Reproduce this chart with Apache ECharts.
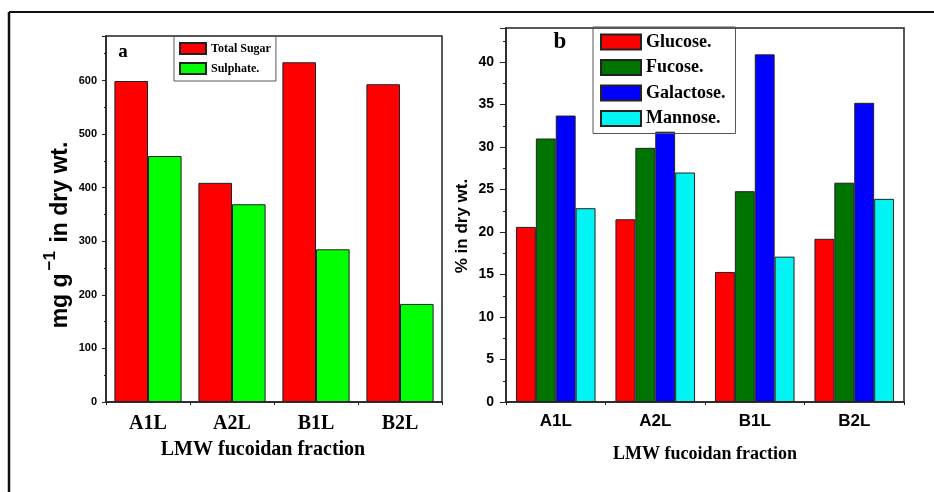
<!DOCTYPE html>
<html>
<head>
<meta charset="utf-8">
<script src="https://cdn.jsdelivr.net/npm/echarts@6/dist/echarts.min.js"></script>
<style>
  html, body { margin: 0; padding: 0; background: #fff; }
  #main { width: 934px; height: 492px; }
</style>
</head>
<body>
<div id="main"></div>
<script>
// fractions on the x axis (both panels)
var fractions = ['A1L', 'A2L', 'B1L', 'B2L'];

// panel a - mg g-1 in dry wt.
var totalSugar = [599, 409, 634, 593];
var sulphate = [459, 369, 285, 183];

// panel b - % in dry wt.
var glucose = [20.6, 21.5, 15.3, 19.2];
var fucose = [31.0, 29.9, 24.8, 25.8];
var galactose = [33.7, 31.8, 40.9, 35.2];
var mannose = [22.8, 27.0, 17.1, 23.9];

var chart = echarts.init(document.getElementById('main'));

var serif = 'Liberation Serif';
var sans = 'Liberation Sans';

function barSeries(name, data, color, axis) {
  return {
    name: name,
    type: 'bar',
    xAxisIndex: axis,
    yAxisIndex: axis,
    data: data,
    barGap: '0%',
    barCategoryGap: '20%',
    itemStyle: { color: color, borderColor: '#222', borderWidth: 1 },
    emphasis: { disabled: true }
  };
}

// extra value axis only used for the small ticks between the categories
function boundaryAxis(grid, h) {
  return {
    type: 'value', gridIndex: grid, position: 'top', offset: -h,
    min: 0, max: 4, interval: 1,
    axisLine: { show: false },
    axisTick: { show: true, inside: true, length: 3, lineStyle: { color: '#222', width: 1 } },
    axisLabel: { show: false },
    splitLine: { show: false }
  };
}

var options = {
  animation: false,
  backgroundColor: '#fff',
  grid: [
    { left: 106, top: 36, width: 336, height: 366, show: true, borderColor: '#222', borderWidth: 1.5 },
    { left: 506, top: 28, width: 398, height: 374, show: true, borderColor: '#222', borderWidth: 1.5 }
  ],
  legend: [
    {
      data: ['Total Sugar', 'Sulphate.'],
      orient: 'vertical', left: 174, top: 36,
      itemWidth: 26, itemHeight: 11, itemGap: 7,
      padding: [6, 5, 6, 5],
      borderColor: '#555', borderWidth: 1,
      icon: 'rect',
      textStyle: { fontFamily: serif, fontWeight: 'bold', fontSize: 12, color: '#000' }
    },
    {
      data: ['Glucose.', 'Fucose.', 'Galactose.', 'Mannose.'],
      orient: 'vertical', left: 593, top: 27,
      itemWidth: 40, itemHeight: 15, itemGap: 7.5,
      padding: [6, 10, 6, 7],
      borderColor: '#555', borderWidth: 1,
      icon: 'rect',
      textStyle: { fontFamily: serif, fontWeight: 'bold', fontSize: 18, color: '#000' }
    }
  ],
  xAxis: [
    {
      type: 'category', gridIndex: 0, data: fractions,
      name: 'LMW fucoidan fraction', nameLocation: 'middle', nameGap: 38,
      nameTextStyle: { fontFamily: serif, fontWeight: 'bold', fontSize: 20, color: '#000', padding: [0, 22, 0, 0] },
      axisLine: { lineStyle: { color: '#222', width: 1.5 } },
      axisTick: { alignWithLabel: true, length: 5, lineStyle: { color: '#222' } },
      axisLabel: { fontFamily: serif, fontWeight: 'bold', fontSize: 20, color: '#000', margin: 12 }
    },
    {
      type: 'category', gridIndex: 1, data: fractions,
      name: 'LMW fucoidan fraction', nameLocation: 'middle', nameGap: 43,
      nameTextStyle: { fontFamily: serif, fontWeight: 'bold', fontSize: 18, color: '#000' },
      axisLine: { lineStyle: { color: '#222', width: 1.5 } },
      axisTick: { alignWithLabel: true, length: 5, lineStyle: { color: '#222' } },
      axisLabel: { fontFamily: sans, fontWeight: 'bold', fontSize: 17, color: '#000', margin: 11 }
    },
    boundaryAxis(0, 366),
    boundaryAxis(1, 374)
  ],
  yAxis: [
    {
      type: 'value', gridIndex: 0, min: 0, max: 683, interval: 100,
      axisLine: { show: true, lineStyle: { color: '#222', width: 1.5 } },
      axisTick: { show: true, length: 4, lineStyle: { color: '#222' } },
      minorTick: { show: true, splitNumber: 2, length: 2, lineStyle: { color: '#222' } },
      axisLabel: { fontFamily: sans, fontWeight: 'bold', fontSize: 11, color: '#000', margin: 9, showMaxLabel: false },
      splitLine: { show: false }
    },
    {
      type: 'value', gridIndex: 1, min: 0, max: 44, interval: 5,
      axisLine: { show: true, lineStyle: { color: '#222', width: 1.5 } },
      axisTick: { show: true, length: 6, lineStyle: { color: '#222' } },
      minorTick: { show: true, splitNumber: 2, length: 3, lineStyle: { color: '#222' } },
      axisLabel: { fontFamily: sans, fontWeight: 'bold', fontSize: 14, color: '#000', margin: 12, showMaxLabel: false },
      splitLine: { show: false }
    }
  ],
  series: [
    barSeries('Total Sugar', totalSugar, '#ff0000', 0),
    barSeries('Sulphate.', sulphate, '#00ff00', 0),
    barSeries('Glucose.', glucose, '#ff0000', 1),
    barSeries('Fucose.', fucose, '#007400', 1),
    barSeries('Galactose.', galactose, '#0000ff', 1),
    barSeries('Mannose.', mannose, '#00f4f4', 1)
  ],
  graphic: [
    // outer frame (top and left edges only)
    { type: 'line', shape: { x1: 9, y1: 12, x2: 934, y2: 12 }, style: { stroke: '#111', lineWidth: 2 } },
    { type: 'line', shape: { x1: 9, y1: 12, x2: 9, y2: 492 }, style: { stroke: '#111', lineWidth: 2.5 } },
    // panel letters
    { type: 'text', x: 123, y: 52, style: { text: 'a', font: 'bold 19px "Liberation Serif"', fill: '#000', textAlign: 'center', textVerticalAlign: 'middle' } },
    { type: 'text', x: 560, y: 42, style: { text: 'b', font: 'bold 23px "Liberation Serif"', fill: '#000', textAlign: 'center', textVerticalAlign: 'middle' } },
    // y axis titles
    {
      type: 'text', x: 57, y: 235, rotation: Math.PI / 2,
      style: {
        text: '{t|mg g}{s|\u22121}{t| in dry wt.}',
        textAlign: 'center', textVerticalAlign: 'middle', fill: '#000',
        rich: {
          t: { fontFamily: sans, fontWeight: 'bold', fontSize: 23, fill: '#000', verticalAlign: 'bottom', lineHeight: 30 },
          s: { fontFamily: sans, fontWeight: 'bold', fontSize: 17, fill: '#000', verticalAlign: 'top', lineHeight: 30, padding: [0, 2, 0, 3] }
        }
      }
    },
    {
      type: 'text', x: 462, y: 226, rotation: Math.PI / 2,
      style: { text: '% in dry wt.', font: 'bold 17px "Liberation Sans"', fill: '#000', textAlign: 'center', textVerticalAlign: 'middle' }
    }
  ]
};

chart.setOption(options);
</script>
</body>
</html>
